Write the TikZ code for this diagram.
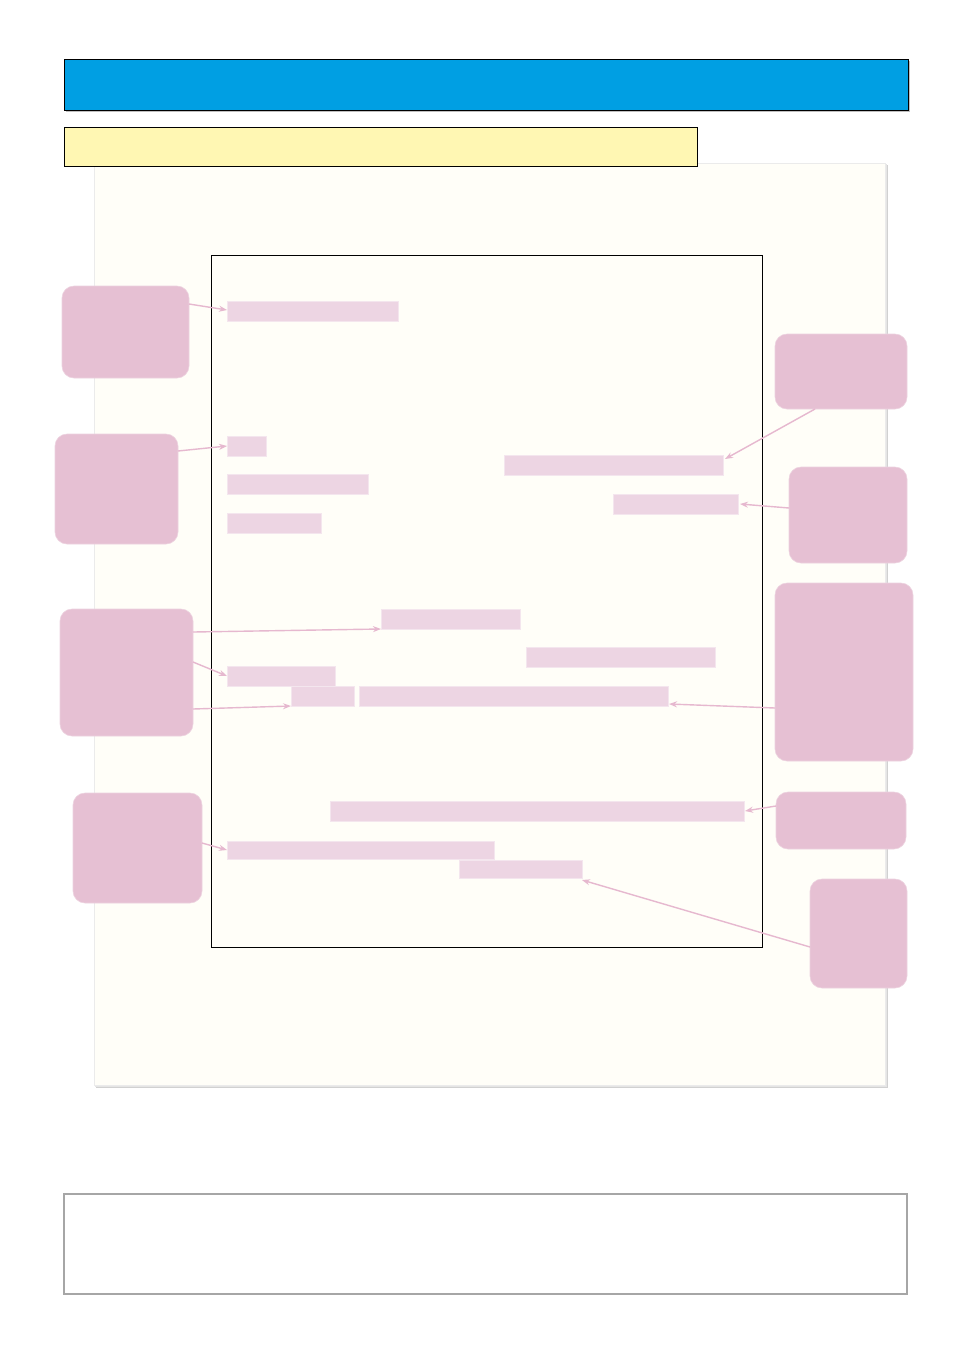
\documentclass[tikz,border=0pt]{standalone}
\usetikzlibrary{arrows.meta}
\definecolor{hdrblue}{HTML}{009FE3}
\definecolor{hdryellow}{HTML}{FFF7B3}
\definecolor{pagebg}{HTML}{FFFEF8}
\definecolor{barpink}{HTML}{EDD5E3}
\definecolor{calloutpink}{HTML}{E6C0D3}
\definecolor{arrowpink}{HTML}{E6B8CF}
\begin{document}
\begin{tikzpicture}[x=1pt,y=-1pt,
  box/.style={anchor=north west,inner sep=0pt,outer sep=0pt},
  hbar/.style={box,fill=barpink,draw=barpink!60!white,line width=0.6pt},
  callout/.style={box,fill=calloutpink,draw=calloutpink!70!white,line width=0.6pt,rounded corners=12pt},
  link/.style={draw=arrowpink,line width=1.4pt,-{Stealth[length=8pt,width=6pt]}}
]
\useasboundingbox (0,0) rectangle (954,1350);
\fill[white] (0,0) rectangle (954,1350);
% header
\fill[black!25] (66,61) rectangle (910,112);
\node[box,fill=hdrblue,draw=black,line width=0.8pt,minimum width=844pt,minimum height=51pt] (header) at (64,59) {};
% page
\fill[black!18] (96,165) rectangle (888,1088);
\fill[black!10] (95,164) rectangle (887,1087);
\node[box,fill=pagebg,draw=black!8,line width=0.8pt,minimum width=791pt,minimum height=922pt] (page) at (94,163) {};
% yellow bar
\node[box,fill=hdryellow,draw=black,line width=0.8pt,minimum width=633pt,minimum height=39pt] (subhdr) at (64,127) {};
% inner frame
\node[box,draw=black,line width=0.8pt,minimum width=551pt,minimum height=692pt] (frame) at (211,255) {};
% bars
\node[hbar,minimum width=171pt,minimum height=20pt] (b1) at (227,301) {};
\node[hbar,minimum width=39pt,minimum height=20pt] (b2) at (227,436) {};
\node[hbar,minimum width=141pt,minimum height=20pt] (b3) at (227,474) {};
\node[hbar,minimum width=94pt,minimum height=20pt] (b4) at (227,513) {};
\node[hbar,minimum width=219pt,minimum height=20pt] (b5) at (504,455) {};
\node[hbar,minimum width=125pt,minimum height=20pt] (b6) at (613,494) {};
\node[hbar,minimum width=139pt,minimum height=20pt] (b7) at (381,609) {};
\node[hbar,minimum width=189pt,minimum height=20pt] (b8) at (526,647) {};
\node[hbar,minimum width=108pt,minimum height=20pt] (b9) at (227,666) {};
\node[hbar,minimum width=63pt,minimum height=20pt] (b10) at (291,686) {};
\node[hbar,minimum width=309pt,minimum height=20pt] (b11) at (359,686) {};
\node[hbar,minimum width=414pt,minimum height=20pt] (b12) at (330,801) {};
\node[hbar,minimum width=267pt,minimum height=18pt] (b13) at (227,841) {};
\node[hbar,minimum width=123pt,minimum height=18pt] (b14) at (459,860) {};
% callouts
\node[callout,minimum width=127pt,minimum height=92pt] (L1) at (62,286) {};
\node[callout,minimum width=123pt,minimum height=110pt] (L2) at (55,434) {};
\node[callout,minimum width=133pt,minimum height=127pt] (L3) at (60,609) {};
\node[callout,minimum width=129pt,minimum height=110pt] (L4) at (73,793) {};
\node[callout,minimum width=132pt,minimum height=75pt] (R1) at (775,334) {};
\node[callout,minimum width=118pt,minimum height=96pt] (R2) at (789,467) {};
\node[callout,minimum width=138pt,minimum height=178pt] (R3) at (775,583) {};
\node[callout,minimum width=130pt,minimum height=57pt] (R4) at (776,792) {};
\node[callout,minimum width=97pt,minimum height=109pt] (R5) at (810,879) {};
% bottom box
\node[box,fill=white,draw=black!35,line width=1.6pt,minimum width=843pt,minimum height=100pt] (footer) at (64,1194) {};
% connectors
\draw[link] ([yshift=-18pt]L1.north east) -- ([yshift=1pt]b1.west);
\draw[link] ([yshift=-17pt]L2.north east) -- (b2.west);
\draw[link] ([yshift=-23pt]L3.north east) -- (b7.south west);
\draw[link] ([yshift=-53pt]L3.north east) -- (b9.west);
\draw[link] ([yshift=-100pt]L3.north east) -- (b10.south west);
\draw[link] ([yshift=-50pt]L4.north east) -- (b13.west);
\draw[link] ([xshift=40pt]R1.south west) -- ([xshift=2pt,yshift=6pt]b5.east);
\draw[link] ([yshift=-41pt]R2.north west) -- ([xshift=2pt]b6.east);
\draw[link] ([yshift=-125pt]R3.north west) -- ([xshift=1pt,yshift=2pt]b11.south east);
\draw[link] ([yshift=-14pt]R4.north west) -- ([xshift=1pt]b12.east);
\draw[link] ([yshift=-68pt]R5.north west) -- ([yshift=-2pt]b14.south east);
\end{tikzpicture}
\end{document}
